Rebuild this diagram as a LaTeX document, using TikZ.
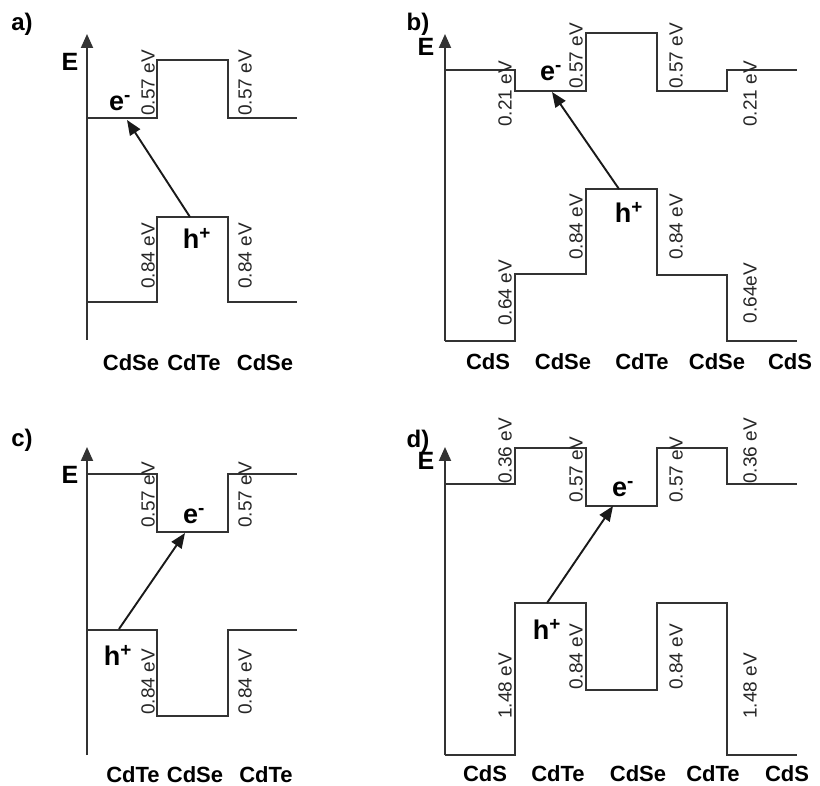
\documentclass[tikz,border=0pt]{standalone}
\usepackage{fontspec}
\setmainfont{Liberation Sans}
\usetikzlibrary{arrows.meta}
\begin{document}
\begin{tikzpicture}[x=1pt,y=-1pt,
  band/.style={line width=1.9pt, draw=black!80, line join=miter},
  axisline/.style={line width=1.9pt, draw=black!80, -{Triangle[length=14pt,width=12pt]}},
  trans/.style={line width=1.9pt, draw=black!90, -{Triangle[length=15pt,width=12pt]}},
  ev/.style={rotate=90, font=\fontsize{19}{19}\selectfont, inner sep=0pt, text=black!85},
  mat/.style={font=\fontsize{22}{22}\selectfont\bfseries, inner sep=0pt},
  carrier/.style={font=\fontsize{27}{27}\selectfont\bfseries, inner sep=0pt},
  elabel/.style={font=\fontsize{25}{25}\selectfont\bfseries, inner sep=0pt},
  plabel/.style={font=\fontsize{24}{24}\selectfont\bfseries, inner sep=0pt}]
\useasboundingbox (0,0) rectangle (820,786);
\fill[white] (0,0) rectangle (820,786);

% ---------------- panel a ----------------
\node[plabel] (pa) at (22,24) {a)};
\coordinate (aA0) at (87,340);
\coordinate (aA1) at (87,34);
\draw[axisline] (aA0) -- (aA1);
\node[elabel] (aE) at (70,62) {E};
\draw[band] (87,118) -- (157,118) -- (157,60) -- (228,60) -- (228,118) -- (297,118);
\draw[band] (87,302) -- (157,302) -- (157,217) -- (228,217) -- (228,302) -- (297,302);
\node[ev] (a1) at (148,83) {0.57 eV};
\node[ev] (a2) at (245,83) {0.57 eV};
\node[ev] (a3) at (148,256) {0.84 eV};
\node[ev] (a4) at (245,256) {0.84 eV};
\node[carrier] (ae) at (120,103) {e\textsuperscript{-}};
\node[carrier] (ah) at (197,238) {h\textsuperscript{+}};
\coordinate (aS) at (190,217);
\coordinate (aT) at (127,120);
\draw[trans] (aS) -- (aT);
\node[mat] (am1) at (131,363) {CdSe};
\node[mat] (am2) at (194,363) {CdTe};
\node[mat] (am3) at (265,363) {CdSe};

% ---------------- panel b ----------------
\node[plabel] (pb) at (418,24) {b)};
\coordinate (bA0) at (445,341);
\coordinate (bA1) at (445,34);
\draw[axisline] (bA0) -- (bA1);
\node[elabel] (bE) at (426,47) {E};
\draw[band] (445,70) -- (515,70) -- (515,91) -- (586,91) -- (586,33) -- (657,33) -- (657,91) -- (727,91) -- (727,70) -- (797,70);
\draw[band] (445,341) -- (515,341) -- (515,274) -- (586,274) -- (586,189) -- (657,189) -- (657,275) -- (727,275) -- (727,341) -- (797,341);
\node[ev] (b1) at (505,94) {0.21 eV};
\node[ev] (b2) at (750,94) {0.21 eV};
\node[ev] (b3) at (576,56) {0.57 eV};
\node[ev] (b4) at (676,56) {0.57 eV};
\node[ev] (b5) at (576,227) {0.84 eV};
\node[ev] (b6) at (676,227) {0.84 eV};
\node[ev] (b7) at (505,293) {0.64 eV};
\node[ev] (b8) at (750,293) {0.64eV};
\node[carrier] (be) at (551,73) {e\textsuperscript{-}};
\node[carrier] (bh) at (629,212) {h\textsuperscript{+}};
\coordinate (bS) at (619,189);
\coordinate (bT) at (552,92);
\draw[trans] (bS) -- (bT);
\node[mat] (bm1) at (488,362) {CdS};
\node[mat] (bm2) at (563,362) {CdSe};
\node[mat] (bm3) at (642,362) {CdTe};
\node[mat] (bm4) at (717,362) {CdSe};
\node[mat] (bm5) at (790,362) {CdS};

% ---------------- panel c ----------------
\node[plabel] (pc) at (22,440) {c)};
\coordinate (cA0) at (87,755);
\coordinate (cA1) at (87,447);
\draw[axisline] (cA0) -- (cA1);
\node[elabel] (cE) at (70,475) {E};
\draw[band] (87,474) -- (157,474) -- (157,532) -- (228,532) -- (228,474) -- (297,474);
\draw[band] (87,630) -- (157,630) -- (157,716) -- (228,716) -- (228,630) -- (297,630);
\node[ev] (c1) at (148,495) {0.57 eV};
\node[ev] (c2) at (245,495) {0.57 eV};
\node[ev] (c3) at (148,682) {0.84 eV};
\node[ev] (c4) at (245,682) {0.84 eV};
\node[carrier] (ce) at (194,516) {e\textsuperscript{-}};
\node[carrier] (ch) at (118,655) {h\textsuperscript{+}};
\coordinate (cS) at (119,629);
\coordinate (cT) at (185,533);
\draw[trans] (cS) -- (cT);
\node[mat] (cm1) at (133,775) {CdTe};
\node[mat] (cm2) at (195,775) {CdSe};
\node[mat] (cm3) at (266,775) {CdTe};

% ---------------- panel d ----------------
\node[plabel] (pd) at (418,441) {d)};
\coordinate (dA0) at (445,755);
\coordinate (dA1) at (445,447);
\draw[axisline] (dA0) -- (dA1);
\node[elabel] (dE) at (426,461) {E};
\draw[band] (445,484) -- (515,484) -- (515,448) -- (586,448) -- (586,506) -- (657,506) -- (657,448) -- (727,448) -- (727,484) -- (797,484);
\draw[band] (445,755) -- (515,755) -- (515,603) -- (586,603) -- (586,690) -- (657,690) -- (657,603) -- (727,603) -- (727,755) -- (797,755);
\node[ev] (d1) at (505,451) {0.36 eV};
\node[ev] (d2) at (750,451) {0.36 eV};
\node[ev] (d3) at (576,470) {0.57 eV};
\node[ev] (d4) at (676,470) {0.57 eV};
\node[ev] (d5) at (576,657) {0.84 eV};
\node[ev] (d6) at (676,657) {0.84 eV};
\node[ev] (d7) at (505,686) {1.48 eV};
\node[ev] (d8) at (750,686) {1.48 eV};
\node[carrier] (de) at (623,489) {e\textsuperscript{-}};
\node[carrier] (dh) at (547,629) {h\textsuperscript{+}};
\coordinate (dS) at (547,603);
\coordinate (dT) at (613,506);
\draw[trans] (dS) -- (dT);
\node[mat] (dm1) at (485,774) {CdS};
\node[mat] (dm2) at (558,774) {CdTe};
\node[mat] (dm3) at (638,774) {CdSe};
\node[mat] (dm4) at (713,774) {CdTe};
\node[mat] (dm5) at (787,774) {CdS};
\end{tikzpicture}
\end{document}
